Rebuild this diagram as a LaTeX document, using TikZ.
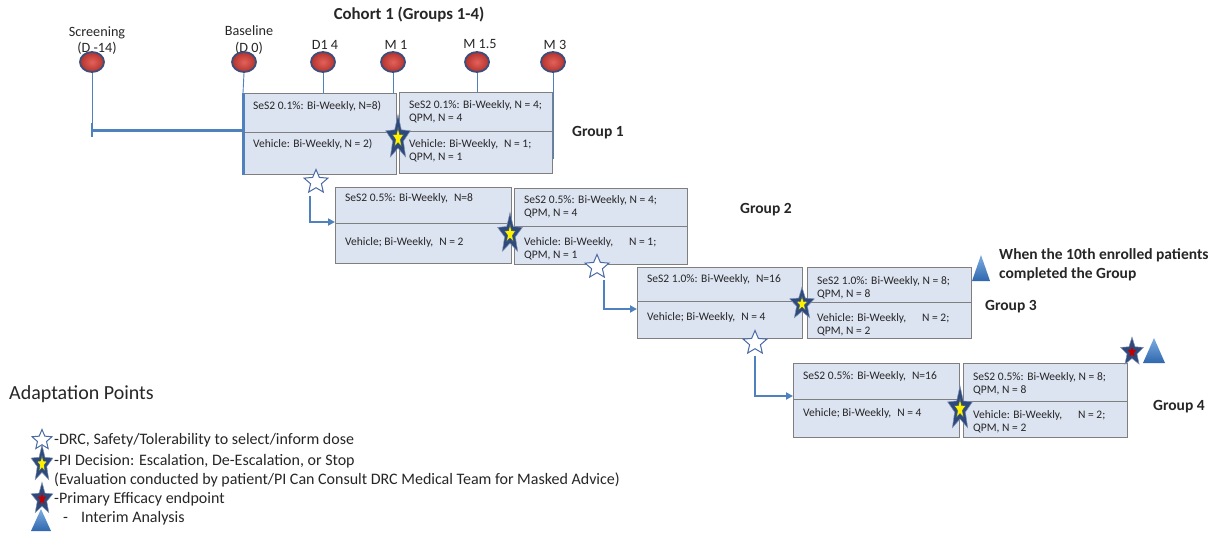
\documentclass[tikz,border=0pt]{standalone}
\usepackage{fontspec}
\setmainfont{Carlito}
\usetikzlibrary{shapes.geometric,arrows.meta,calc}
\definecolor{cellfill}{HTML}{DCE3F1}
\definecolor{cellline}{HTML}{7F7F7F}
\definecolor{lineblue}{HTML}{4F81BD}
\definecolor{navy}{HTML}{2E4A7D}
\definecolor{dotin}{HTML}{E2625B}
\definecolor{dotout}{HTML}{B5322C}
\definecolor{dotrim}{HTML}{3C4F7C}
\definecolor{starred}{HTML}{C00000}
\definecolor{starblue}{HTML}{4A6AA5}
\definecolor{tritop}{HTML}{7DAEE0}
\definecolor{tribot}{HTML}{2F67AE}
\definecolor{txt}{HTML}{262626}
\newcommand\ScStar[6]{%
  \begin{scope}[shift={(#2,#3)}, yscale=#5]
    \node[outstar=#4, transform shape] (#1) at (0,0) {};
    \node[instar=#4*0.45, fill=#6, transform shape] (#1c) at (0,0) {};
  \end{scope}}
\begin{document}
\begin{tikzpicture}[x=1pt,y=-1pt,
  cell/.style={rectangle, draw=cellline, fill=cellfill, line width=1.1pt, anchor=north west, inner sep=0pt},
  ctext/.style={anchor=north west, inner sep=0pt, align=left, text=txt, font=\fontsize{11.5}{13}\selectfont},
  tlab/.style={anchor=base, inner sep=0pt, text=txt, font=\fontsize{14.2}{16}\selectfont},
  glab/.style={anchor=base west, inner sep=0pt, text=txt, font=\bfseries\fontsize{15.5}{19}\selectfont},
  legtext/.style={anchor=base west, inner sep=0pt, text=txt, font=\fontsize{16}{19}\selectfont},
  dot/.style={ellipse, minimum width=24pt, minimum height=20pt, inner sep=0pt, draw=dotrim, line width=1.8pt, inner color=dotin, outer color=dotout},
  tline/.style={draw=lineblue, line width=0.9pt},
  thickbar/.style={draw=lineblue, line width=3pt},
  flow/.style={draw=lineblue, line width=2pt, -{Triangle[length=7pt,width=7pt]}},
  outstar/.style={star, star points=5, star point ratio=2.3, inner sep=0pt, minimum size=#1, fill=navy, draw=navy!60!white, line width=0.5pt},
  instar/.style={star, star points=5, star point ratio=2.3, inner sep=0pt, minimum size=#1, draw=navy, line width=0.4pt},
  wstar/.style={star, star points=5, star point ratio=2.2, inner sep=0pt, minimum size=#1, fill=white, draw=starblue, line width=1pt},
  tri/.style={top color=tritop, bottom color=tribot, draw=none}
]
\useasboundingbox (0,0) rectangle (1212,533);

% title
\node[anchor=base, inner sep=0pt, text=txt, font=\bfseries\fontsize{16.8}{20}\selectfont] (title) at (409,19.5) {Cohort 1 (Groups 1-4)};

% timeline labels
\node[tlab] (l0a) at (97,36.5) {Screening};
\node[tlab] (l0b) at (97,52) {(D -14)};
\node[tlab] (l1a) at (249,35.5) {Baseline};
\node[tlab] (l1b) at (249,52) {(D 0)};
\node[tlab] (l2) at (325,49.5) {D1 4};
\node[tlab] (l3) at (396,49.5) {M 1};
\node[tlab] (l4) at (480,48.5) {M 1.5};
\node[tlab] (l5) at (555,49.5) {M 3};

% Group 1 cells
\node[cell, minimum width=153pt, minimum height=39pt] (g1tl) at (243,93) {};
\node[cell, minimum width=153pt, minimum height=42pt] (g1bl) at (243,132) {};
\node[cell, minimum width=153pt, minimum height=39pt] (g1tr) at (399,92) {};
\node[cell, minimum width=153pt, minimum height=42pt] (g1br) at (399,131) {};
\node[ctext] (g1tlt) at ($(g1tl.north west)+(10,6.9)$) {\strut SeS2 0.1\%: Bi-Weekly, N=8)};
\node[ctext] (g1blt) at ($(g1bl.north west)+(10,5.9)$) {\strut Vehicle: Bi-Weekly, N = 2)};
\node[ctext] (g1trt) at ($(g1tr.north west)+(10,6.9)$) {\strut SeS2 0.1\%: Bi-Weekly, N = 4;\\QPM, N = 4};
\node[ctext] (g1brt) at ($(g1br.north west)+(10,6.9)$) {\strut Vehicle: Bi-Weekly,\hspace{6pt}N = 1;\\QPM, N = 1};

% Group 2 cells
\node[cell, minimum width=176pt, minimum height=36pt] (g2tl) at (335,187) {};
\node[cell, minimum width=176pt, minimum height=40pt] (g2bl) at (335,223) {};
\node[cell, minimum width=173pt, minimum height=38pt] (g2tr) at (514,188) {};
\node[cell, minimum width=173pt, minimum height=38pt] (g2br) at (514,226) {};
\node[ctext] (g2tlt) at ($(g2tl.north west)+(10,4.9)$) {\strut SeS2 0.5\%: Bi-Weekly,\hspace{6pt}N=8};
\node[ctext] (g2blt) at ($(g2bl.north west)+(10,12.9)$) {\strut Vehicle; Bi-Weekly,\hspace{6pt}N = 2};
\node[ctext] (g2trt) at ($(g2tr.north west)+(10,5.9)$) {\strut SeS2 0.5\%: Bi-Weekly, N = 4;\\QPM, N = 4};
\node[ctext] (g2brt) at ($(g2br.north west)+(10,9.9)$) {\strut Vehicle: Bi-Weekly,\hspace{16pt}N = 1;\\QPM, N = 1};

% Group 3 cells
\node[cell, minimum width=165pt, minimum height=34pt] (g3tl) at (637,267) {};
\node[cell, minimum width=165pt, minimum height=37pt] (g3bl) at (637,301) {};
\node[cell, minimum width=164pt, minimum height=35pt] (g3tr) at (807,267) {};
\node[cell, minimum width=164pt, minimum height=36pt] (g3br) at (807,302) {};
\node[ctext] (g3tlt) at ($(g3tl.north west)+(10,5.9)$) {\strut SeS2 1.0\%: Bi-Weekly,\hspace{6pt}N=16};
\node[ctext] (g3blt) at ($(g3bl.north west)+(10,9.9)$) {\strut Vehicle; Bi-Weekly,\hspace{6pt}N = 4};
\node[ctext] (g3trt) at ($(g3tr.north west)+(10,7.9)$) {\strut SeS2 1.0\%: Bi-Weekly, N = 8;\\QPM, N = 8};
\node[ctext] (g3brt) at ($(g3br.north west)+(10,9.9)$) {\strut Vehicle: Bi-Weekly,\hspace{16pt}N = 2;\\QPM, N = 2};

% Group 4 cells
\node[cell, minimum width=166pt, minimum height=36pt] (g4tl) at (793,363) {};
\node[cell, minimum width=166pt, minimum height=38pt] (g4bl) at (793,399) {};
\node[cell, minimum width=164pt, minimum height=38pt] (g4tr) at (963,363) {};
\node[cell, minimum width=164pt, minimum height=36pt] (g4br) at (963,401) {};
\node[ctext] (g4tlt) at ($(g4tl.north west)+(10,6.9)$) {\strut SeS2 0.5\%: Bi-Weekly,\hspace{6pt}N=16};
\node[ctext] (g4blt) at ($(g4bl.north west)+(10,7.9)$) {\strut Vehicle; Bi-Weekly,\hspace{6pt}N = 4};
\node[ctext] (g4trt) at ($(g4tr.north west)+(10,7.9)$) {\strut SeS2 0.5\%: Bi-Weekly, N = 8;\\QPM, N = 8};
\node[ctext] (g4brt) at ($(g4br.north west)+(10,7.9)$) {\strut Vehicle: Bi-Weekly,\hspace{16pt}N = 2;\\QPM, N = 2};

% timeline dots
\node[dot] (c0) at (92,62) {};
\node[dot] (c1) at (244,62) {};
\node[dot] (c2) at (323,62) {};
\node[dot] (c3) at (393,62) {};
\node[dot] (c4) at (477,62) {};
\node[dot] (c5) at (553,62) {};
\coordinate (bar0) at (92,130);
\coordinate (m3end) at (552,159);

% timeline lines
\draw[tline] (c0.south) -- (bar0);
\draw[thickbar] (bar0) -- (bar0 -| g1bl.north west);
\draw[draw=lineblue, line width=2.5pt] ($(bar0)+(0,-7)$) -- ($(bar0)+(0,7)$);
\draw[tline] (c1.south) -- (g1tl.north west);
\draw[thickbar] (g1tl.north west) -- (g1bl.south west);
\draw[tline] (c2.south) -- (c2.south |- g1tl.north);
\draw[tline] (c3.south) -- (c3.south |- g1tl.north);
\draw[tline] (c4.south) -- (c4.south |- g1tr.north);
\draw[tline] (c5.south) -- (c5.south |- m3end);

% DRC stars (white)
\node[wstar=25] (w1) at (316,182) {};
\node[wstar=25] (w2) at (597,267) {};
\node[wstar=25] (w3) at (755,343) {};

% arrows
\draw[flow] ([xshift=-6pt,yshift=-14pt]w1.center) |- ([yshift=1pt]g2bl.north west);
\draw[flow] ([xshift=7pt,yshift=-13pt]w2.center) |- ([yshift=-8pt]g3bl.north west);
\draw[flow] ([yshift=-13pt]w3.center) |- ([yshift=3pt]g4bl.north west);

% PI decision stars
\ScStar{p1}{398}{138}{26}{1.8}{yellow}
\ScStar{p2}{510}{234}{26}{1.64}{yellow}
\ScStar{p3}{802}{304}{26}{1.3}{yellow}
\ScStar{p4}{960}{409}{26}{1.77}{yellow}
% primary efficacy star
\ScStar{e1}{1132}{352}{24}{1.24}{starred}

% interim triangles
\shade[tri] (981,255) -- (990,281) -- (972,281) -- cycle;
\shade[tri] (1154,338) -- (1165,363) -- (1143,363) -- cycle;

% group labels
\node[glab] (gl1) at (572,136) {Group 1};
\node[glab] (gl2) at (740,213) {Group 2};
\node[glab] (gl3) at (985,310) {Group 3};
\node[glab] (gl4) at (1153,410) {Group 4};
\node[glab, align=left, anchor=north west] (note) at (999,248) {When the 10th enrolled patients\\completed the Group};

% legend
\node[anchor=base west, inner sep=0pt, text=txt, font=\fontsize{20}{23}\selectfont] (leg) at (9,399) {Adaptation Points};
\node[wstar=21] (lw) at (42,440) {};
\ScStar{ly}{42}{464}{23}{1.67}{yellow}
\ScStar{lr}{42}{499}{23}{1.45}{starred}
\shade[tri] (41,509) -- (51,531) -- (31,531) -- cycle;
\node[legtext] (lt1) at (54,444) {-DRC, Safety/Tolerability to select/inform dose};
\node[legtext] (lt2) at (54,465) {-PI Decision: Escalation, De-Escalation, or Stop};
\node[legtext] (lt3) at (54,484) {(Evaluation conducted by patient/PI Can Consult DRC Medical Team for Masked Advice)};
\node[legtext] (lt4) at (54,503) {-Primary Efficacy endpoint};
\node[legtext] (lt5a) at (63,522) {-};
\node[legtext] (lt5b) at (81,522) {Interim Analysis};
\end{tikzpicture}
\end{document}
